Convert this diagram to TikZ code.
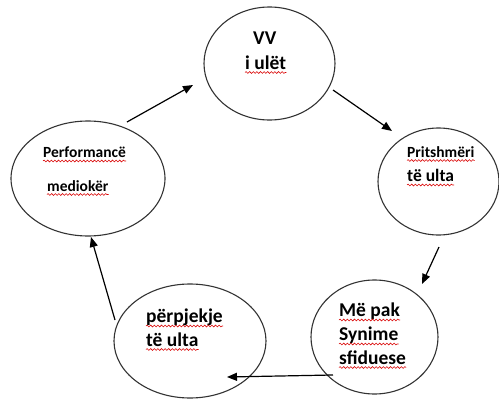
\documentclass[tikz,border=0pt]{standalone}
\usepackage{fontspec}
\setmainfont{Carlito}
\usetikzlibrary{arrows.meta,calc,decorations.pathmorphing,shapes.geometric}
\tikzset{
  bubble/.style={draw=black!80, line width=1.1pt, ellipse, inner sep=0pt},
  arr/.style={draw=black, line width=1.2pt, -{Triangle[length=10pt,width=8pt]}},
  big/.style={anchor=base west, inner sep=0pt, font=\bfseries\fontsize{19.5}{22}\selectfont},
  mid/.style={anchor=base west, inner sep=0pt, font=\bfseries\fontsize{17.5}{20}\selectfont},
  small/.style={anchor=base west, inner sep=0pt, font=\bfseries\fontsize{15.5}{18}\selectfont},
  wavy/.style={draw=red!85!black, line width=0.55pt, decorate, decoration={snake, segment length=3.6pt, amplitude=0.9pt}}
}
\newcommand{\squig}[1]{\draw[wavy] ($(#1.base west)+(0,3.5)$) -- ($(#1.base east)+(0,3.5)$);}
\begin{document}
\begin{tikzpicture}[x=1pt,y=-1pt]
\useasboundingbox (0,0) rectangle (499,399);
% ellipses
\node[bubble, minimum width=131pt, minimum height=113pt] (top) at (269.5,63.5) {};
\node[bubble, minimum width=154pt, minimum height=115pt] (left) at (88,178.5) {};
\node[bubble, minimum width=121pt, minimum height=107pt] (right) at (438.5,181.5) {};
\node[bubble, minimum width=127pt, minimum height=114pt] (br) at (374.5,337) {};
\node[bubble, minimum width=152pt, minimum height=114pt] (bl) at (190,341) {};
% texts
\node[big] (vv) at (253,44) {VV};
\node[big] (iul) at (245,69) {i ulët};
\node[small] (perf) at (43,157.5) {Performancë};
\node[small] (med) at (47,191) {mediokër};
\node[small] (prit) at (407,157) {Pritshmëri};
\node[mid] (tu1) at (407,181.5) {të ulta};
\node[big] (mep) at (339,316.5) {Më pak};
\node[big] (syn) at (339,340.5) {Synime};
\node[big] (sfi) at (339,364) {sfiduese};
\node[big] (perp) at (146,322.5) {përpjekje};
\node[big] (tu2) at (146,346) {të ulta};
% spelling squiggles
\squig{iul}\squig{perf}\squig{med}\squig{prit}\squig{tu1}
\squig{mep}\squig{syn}\squig{sfi}\squig{perp}\squig{tu2}
% arrow end points
\coordinate (a1s) at (127,122); \coordinate (a1e) at (193,85);
\coordinate (a2s) at (333,90);  \coordinate (a2e) at (392,131);
\coordinate (a3s) at (439,247); \coordinate (a3e) at (422,284);
\coordinate (a4s) at (333,375); \coordinate (a4e) at (227,377);
\coordinate (a5s) at (115,320); \coordinate (a5e) at (91,237);
\draw[arr] (a1s) -- (a1e);
\draw[arr] (a2s) -- (a2e);
\draw[arr] (a3s) -- (a3e);
\draw[arr] (a4s) -- (a4e);
\draw[arr] (a5s) -- (a5e);
\end{tikzpicture}
\end{document}
